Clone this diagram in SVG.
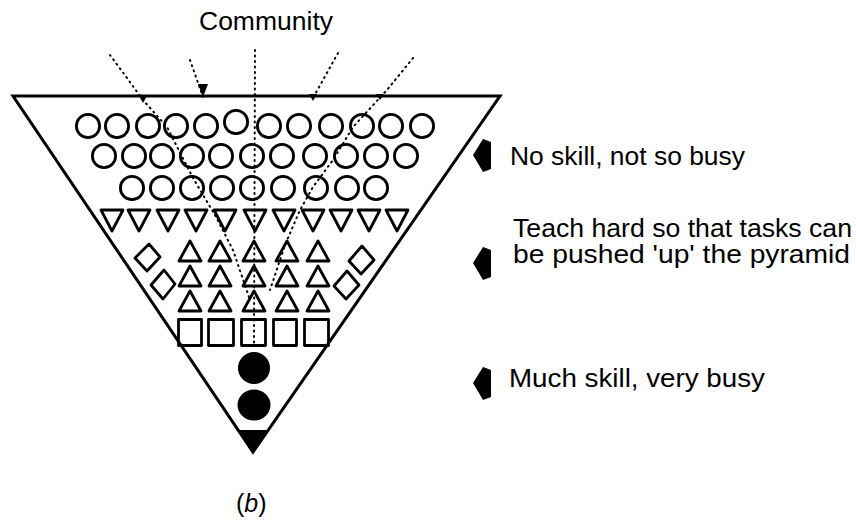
<svg xmlns="http://www.w3.org/2000/svg" width="856" height="523" viewBox="0 0 856 523">
<style>
.o{fill:none;stroke:#000;stroke-width:2.8;stroke-linejoin:round}
.pyr{fill:none;stroke:#000;stroke-width:3;stroke-linejoin:miter}
.dot{fill:none;stroke:#000;stroke-width:2;stroke-linecap:round;stroke-dasharray:1 4.5}
.t{font-family:"Liberation Sans",Arial,sans-serif;font-size:25px;fill:#000}
.ptr{fill:#000}
</style>
<defs>
<circle id="c" r="11.6" class="o"/>
<polygon id="dn" points="-11,0 11,0 0,21" class="o"/>
<polygon id="up" points="0,0 -11,20 11,20" class="o"/>
<path id="arr" d="M0,0 L10,-16 L18,-13 L18,14 L10,17 Z" class="ptr"/>
</defs>
<rect width="856" height="523" fill="#fff"/>
<text class="t" x="199" y="30" font-size="23" textLength="134" lengthAdjust="spacingAndGlyphs">Community</text>
<g id="pyramid">
<polygon class="pyr" points="13,96 500,96 253,452"/>
<polygon points="237,430 269,430 253,452" fill="#000"/>
</g>
<g id="circles">
<use href="#c" x="88" y="126"/><use href="#c" x="117" y="126"/><use href="#c" x="148" y="126"/><use href="#c" x="176" y="126"/><use href="#c" x="206" y="126"/><use href="#c" x="236" y="122"/><use href="#c" x="269" y="126"/><use href="#c" x="299" y="126"/><use href="#c" x="331" y="126"/><use href="#c" x="362" y="126"/><use href="#c" x="391" y="126"/><use href="#c" x="422" y="126"/>
<use href="#c" x="104" y="156"/><use href="#c" x="134" y="156"/><use href="#c" x="162" y="156"/><use href="#c" x="192" y="156"/><use href="#c" x="221" y="156"/><use href="#c" x="252" y="156"/><use href="#c" x="282" y="156"/><use href="#c" x="315" y="156"/><use href="#c" x="346" y="156"/><use href="#c" x="376" y="156"/><use href="#c" x="406" y="156"/>
<use href="#c" x="132" y="188"/><use href="#c" x="162" y="188"/><use href="#c" x="192" y="188"/><use href="#c" x="222" y="188"/><use href="#c" x="252" y="188"/><use href="#c" x="283" y="188"/><use href="#c" x="316" y="188"/><use href="#c" x="347" y="188"/><use href="#c" x="376" y="188"/>
</g>
<g id="inverted-triangles">
<use href="#dn" x="112" y="210"/><use href="#dn" x="139" y="210"/><use href="#dn" x="168" y="210"/><use href="#dn" x="196" y="210"/><use href="#dn" x="225" y="210"/><use href="#dn" x="255" y="210"/><use href="#dn" x="284" y="210"/><use href="#dn" x="313" y="210"/><use href="#dn" x="341" y="210"/><use href="#dn" x="369" y="210"/><use href="#dn" x="397" y="210"/>
</g>
<g id="diamonds">
<polygon class="o" points="149,244 160,257 147,271 135,258"/>
<polygon class="o" points="164,270 175,284 163,299 151,285"/>
<polygon class="o" points="362,246 374,260 361,274 349,261"/>
<polygon class="o" points="347,271 359,285 346,299 334,286"/>
</g>
<g id="triangles">
<use href="#up" x="190" y="241"/><use href="#up" x="220" y="241"/><use href="#up" x="254" y="241"/><use href="#up" x="287" y="241"/><use href="#up" x="318" y="241"/>
<use href="#up" x="190" y="266"/><use href="#up" x="220" y="266"/><use href="#up" x="254" y="266"/><use href="#up" x="287" y="266"/><use href="#up" x="318" y="266"/>
<use href="#up" x="190" y="291"/><use href="#up" x="220" y="291"/><use href="#up" x="254" y="291"/><use href="#up" x="287" y="291"/><use href="#up" x="318" y="291"/>
</g>
<g id="squares">
<rect class="o" x="178.5" y="319.5" width="23" height="26"/>
<rect class="o" x="208.5" y="319.5" width="25" height="26"/>
<rect class="o" x="241.5" y="319.5" width="24" height="26"/>
<rect class="o" x="273.5" y="319.5" width="23" height="26"/>
<rect class="o" x="304.5" y="319.5" width="24" height="26"/>
</g>
<g id="black-circles">
<ellipse cx="254" cy="368" rx="16" ry="16" fill="#000"/>
<ellipse cx="254" cy="405" rx="16.5" ry="15.5" fill="#000"/>
</g>
<g id="connectors">
<path class="dot" d="M110,55 L127,78 L143,100 L167,127 L193,178 L215,215 L233,250 L250,300"/>
<path class="dot" d="M190,60 L203,97"/>
<path class="dot" d="M255,50 L254,345"/>
<path class="dot" d="M338,53 L313,98"/>
<path class="dot" d="M413,58 L387,90 L353,127 L333,160 L313,187 L300,210 L285,245 L270,290"/>
<path class="ptr" d="M139,96 L147,96 L143,103 Z"/>
<path class="ptr" d="M198,84 L208,84 L203,97 Z"/>
<path class="ptr" d="M309,94 L317,94 L313,101 Z"/>
<path class="ptr" d="M376,94 L384,94 L380,100 Z"/>
<use href="#arr" x="473" y="155"/>
<use href="#arr" x="473" y="263"/>
<use href="#arr" x="473" y="383"/>
</g>
<g id="labels">
<text class="t" x="510" y="165" textLength="235" lengthAdjust="spacingAndGlyphs">No skill, not so busy</text>
<text class="t" x="513" y="237" font-size="23" textLength="339" lengthAdjust="spacingAndGlyphs">Teach hard so that tasks can</text>
<text class="t" x="513" y="263" font-size="23" textLength="337" lengthAdjust="spacingAndGlyphs">be pushed 'up' the pyramid</text>
<text class="t" x="509" y="387" textLength="256" lengthAdjust="spacingAndGlyphs">Much skill, very busy</text>
<text class="t" x="236" y="512" font-size="24">(<tspan font-style="italic">b</tspan>)</text>
</g>
</svg>
